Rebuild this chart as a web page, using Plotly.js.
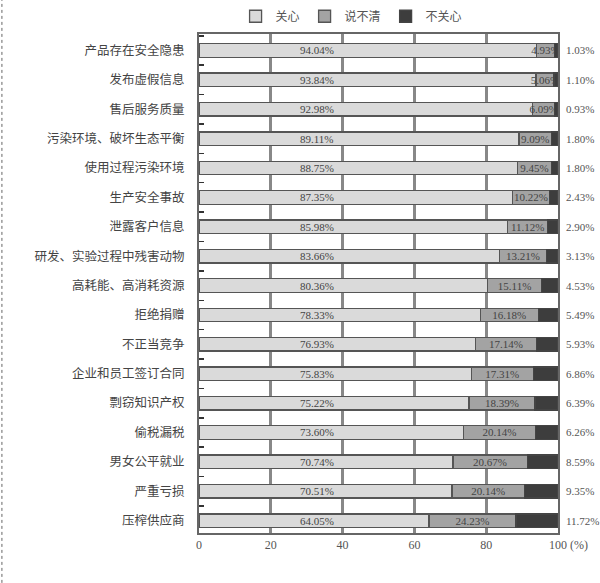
<!DOCTYPE html>
<html>
<head>
<meta charset="utf-8">
<script src="https://cdn.plot.ly/plotly-3.0.1.min.js"></script>
<style>html,body{margin:0;padding:0;background:#fff;}#chart{width:600px;height:583px;}</style>
</head>
<body>
<div id="chart"></div>
<script>
const categories = ['产品存在安全隐患','发布虚假信息','售后服务质量','污染环境、破坏生态平衡','使用过程污染环境','生产安全事故','泄露客户信息','研发、实验过程中残害动物','高耗能、高消耗资源','拒绝捐赠','不正当竞争','企业和员工签订合同','剽窃知识产权','偷税漏税','男女公平就业','严重亏损','压榨供应商'];
const careVals = [94.04, 93.84, 92.98, 89.11, 88.75, 87.35, 85.98, 83.66, 80.36, 78.33, 76.93, 75.83, 75.22, 73.60, 70.74, 70.51, 64.05];
const unclearVals = [4.93, 5.06, 6.09, 9.09, 9.45, 10.22, 11.12, 13.21, 15.11, 16.18, 17.14, 17.31, 18.39, 20.14, 20.67, 20.14, 24.23];
const notCareVals = [1.03, 1.10, 0.93, 1.80, 1.80, 2.43, 2.90, 3.13, 4.53, 5.49, 5.93, 6.86, 6.39, 6.26, 8.59, 9.35, 11.72];
const seriesNames = ['关心', '说不清', '不关心'];
const xTicks = [0, 20, 40, 60, 80, 100];

const numFont = 'Liberation Serif, Noto Sans CJK SC, serif';
const cjkFont = 'Noto Sans CJK SC, sans-serif';
const fmt = v => v.toFixed(2) + '%';

const common = {type: 'bar', orientation: 'h', y: categories, width: 0.46, cliponaxis: false, hoverinfo: 'skip'};
const traces = [
  Object.assign({}, common, {name: seriesNames[0], x: careVals,
    marker: {color: '#dadada', line: {color: '#555', width: 1.3}}}),
  Object.assign({}, common, {name: seriesNames[1], x: unclearVals,
    text: unclearVals.map(fmt), textposition: 'inside', insidetextanchor: 'middle', constraintext: 'none',
    textfont: {family: numFont, size: 11, color: '#444'},
    marker: {color: '#a3a3a3', line: {color: '#555', width: 1.3}}}),
  Object.assign({}, common, {name: seriesNames[2], x: notCareVals,
    marker: {color: '#3d3d3d', line: {color: '#444', width: 1.3}}})
];

const annotations = [];
categories.forEach((c, i) => {
  annotations.push({x: 33, y: c, xref: 'x', yref: 'y', text: fmt(careVals[i]), showarrow: false,
    font: {family: numFont, size: 11, color: '#444'}, xanchor: 'center'});
  annotations.push({x: 100, y: c, xref: 'x', yref: 'y', text: fmt(notCareVals[i]), showarrow: false,
    font: {family: numFont, size: 11, color: '#555'}, xanchor: 'left', xshift: 6});
});
annotations.push({x: 100, y: 0, xref: 'x', yref: 'paper', text: '(%)', showarrow: false,
  font: {family: numFont, size: 12, color: '#555'}, xanchor: 'left', yanchor: 'top', xshift: 10, yshift: -3});

const layout = {
  width: 600, height: 583,
  margin: {l: 199, r: 42, t: 34, b: 50, autoexpand: false},
  barmode: 'stack',
  paper_bgcolor: '#fff', plot_bgcolor: '#fff',
  showlegend: true,
  legend: {orientation: 'h', xref: 'paper', x: 0.425, xanchor: 'center', yref: 'container', y: 0.997, yanchor: 'top',
    bgcolor: 'rgba(0,0,0,0)', itemwidth: 30,
    font: {family: cjkFont, size: 12, color: '#555'}, traceorder: 'normal'},
  xaxis: {range: [0, 100], tickvals: xTicks, ticktext: xTicks.map(String), showgrid: true, gridcolor: '#888', gridwidth: 3,
    zeroline: false, showline: true, mirror: true, linecolor: '#666', linewidth: 2,
    tickfont: {family: numFont, size: 12, color: '#555'}, ticks: '', fixedrange: true},
  yaxis: {type: 'category', range: [16.42, -0.56], showgrid: false, zeroline: false,
    showline: true, mirror: true, linecolor: '#666', linewidth: 2,
    ticks: 'inside', tickson: 'boundaries', ticklen: 5, tickcolor: '#333', tickwidth: 1.5,
    tickfont: {family: cjkFont, size: 12.5, color: '#444'}, ticklabelstandoff: 10},
  annotations: annotations,
  shapes: [{type: 'line', xref: 'paper', yref: 'paper', x0: -0.549, x1: -0.549, y0: -0.1, y1: 1.068,
    line: {color: '#666', width: 1, dash: 'dot'}}]
};

Plotly.newPlot('chart', traces, layout, {displayModeBar: false, staticPlot: true});
</script>
</body>
</html>
